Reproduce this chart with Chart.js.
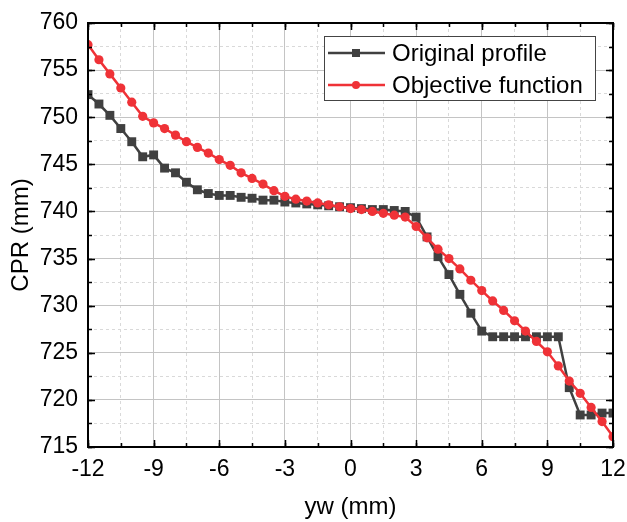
<!DOCTYPE html>
<html>
<head>
<meta charset="utf-8">
<script src="https://cdn.jsdelivr.net/npm/chart.js@4.4.0/dist/chart.umd.min.js"></script>
<style>
html, body { margin: 0; padding: 0; background: #fff; }
#wrap { width: 627px; height: 522px; }
</style>
</head>
<body>
<div id="wrap"><canvas id="canvasCpr" width="627" height="522"></canvas></div>
<script>
"use strict";

// yw positions (mm)
var ywValues = [-12, -11.5, -11, -10.5, -10, -9.5, -9, -8.5, -8, -7.5, -7, -6.5, -6, -5.5, -5, -4.5, -4, -3.5,
    -3, -2.5, -2, -1.5, -1, -0.5, 0, 0.5, 1, 1.5, 2, 2.5, 3, 3.5, 4, 4.5, 5, 5.5, 6, 6.5, 7, 7.5, 8, 8.5,
    9, 9.5, 10, 10.5, 11, 11.5, 12];

// CPR (mm)
var originalProfile = [752.4, 751.4, 750.2, 748.8, 747.4, 745.8, 746.0, 744.6, 744.1, 743.1, 742.3, 741.9,
    741.7, 741.7, 741.5, 741.4, 741.2, 741.2, 741.0, 740.9, 740.8, 740.7, 740.6, 740.5, 740.4, 740.3,
    740.2, 740.2, 740.1, 740.0, 739.4, 737.3, 735.2, 733.3, 731.2, 729.2, 727.3, 726.7, 726.7, 726.7,
    726.7, 726.7, 726.7, 726.7, 721.3, 718.4, 718.4, 718.6, 718.6];

var objectiveFunction = [757.7, 756.1, 754.6, 753.1, 751.6, 750.1, 749.4, 748.8, 748.1, 747.4, 746.8, 746.2,
    745.5, 744.9, 744.1, 743.5, 742.9, 742.2, 741.6, 741.3, 741.1, 740.9, 740.7, 740.5, 740.3, 740.2,
    740.0, 739.8, 739.6, 739.4, 738.4, 737.2, 736.0, 735.0, 733.9, 732.7, 731.6, 730.5, 729.5, 728.4,
    727.3, 726.2, 725.1, 723.6, 722.0, 720.7, 719.2, 717.7, 716.1];

var seriesNames = ['Original profile', 'Objective function'];
var seriesColors = ['#404040', '#ef3237'];

function toPoints(values) {
    var points = [];
    for (var i = 0; i < values.length; i++) {
        points.push({ x: ywValues[i], y: values[i] });
    }
    return points;
}

var fontName = '"Liberation Sans", Arial, sans-serif';

// box around the plot and inward ticks on every side
var frameAndTicks = {
    id: 'frameAndTicks',
    afterDatasetsDraw: function (chart) {
        var ctx = chart.ctx;
        var area = chart.chartArea;
        var s = chart.scales;
        ctx.save();
        ctx.strokeStyle = '#000';
        ctx.lineWidth = 1.5;
        function tickSet(scale, len, horizontal) {
            scale.ticks.forEach(function (t) {
                var p = Math.round(scale.getPixelForValue(t.value)) + 0.5;
                ctx.beginPath();
                if (horizontal) {
                    ctx.moveTo(p, area.bottom); ctx.lineTo(p, area.bottom - len);
                    ctx.moveTo(p, area.top); ctx.lineTo(p, area.top + len);
                } else {
                    ctx.moveTo(area.left, p); ctx.lineTo(area.left + len, p);
                    ctx.moveTo(area.right, p); ctx.lineTo(area.right - len, p);
                }
                ctx.stroke();
            });
        }
        tickSet(s.xMinor, 4, true);
        tickSet(s.x, 7, true);
        tickSet(s.yMinor, 4, false);
        tickSet(s.y, 7, false);
        ctx.lineWidth = 2;
        ctx.strokeRect(area.left, area.top, area.right - area.left, area.bottom - area.top);
        ctx.restore();
    }
};

// legend box inside the plot, top right
var insideLegend = {
    id: 'insideLegend',
    afterDraw: function (chart) {
        var ctx = chart.ctx;
        var area = chart.chartArea;
        var right = area.right - 18;
        var top = area.top + 13;
        var w = 271, h = 64;
        var left = right - w;
        ctx.save();
        ctx.fillStyle = '#fff';
        ctx.fillRect(left, top, w, h);
        ctx.strokeStyle = '#444';
        ctx.lineWidth = 1;
        ctx.strokeRect(left + 0.5, top + 0.5, w, h);
        ctx.font = '24px ' + fontName;
        ctx.textBaseline = 'middle';
        chart.data.datasets.forEach(function (ds, i) {
            var y = top + 17 + i * 32;
            ctx.strokeStyle = ds.borderColor;
            ctx.lineWidth = 2.5;
            ctx.beginPath();
            ctx.moveTo(left + 4, y);
            ctx.lineTo(left + 61, y);
            ctx.stroke();
            ctx.fillStyle = ds.borderColor;
            if (ds.pointStyle === 'rect') {
                ctx.fillRect(left + 28, y - 4, 8, 8);
            } else {
                ctx.beginPath();
                ctx.arc(left + 32, y, 4, 0, Math.PI * 2);
                ctx.fill();
            }
            ctx.fillStyle = '#000';
            ctx.fillText(ds.label, left + 68, y + 1);
        });
        ctx.restore();
    }
};

var tickFont = { family: fontName, size: 23 };
var titleFont = { family: fontName, size: 24 };

const context = document.getElementById('canvasCpr');
const cprChart = new Chart(context, {
    type: 'line',
    data: {
        datasets: [{
            label: seriesNames[0],
            data: toPoints(originalProfile),
            borderColor: seriesColors[0],
            backgroundColor: seriesColors[0],
            borderWidth: 2.5,
            pointStyle: 'rect',
            pointRadius: 6.3,
            pointBorderWidth: 0,
            order: 1
        }, {
            label: seriesNames[1],
            data: toPoints(objectiveFunction),
            borderColor: seriesColors[1],
            backgroundColor: seriesColors[1],
            borderWidth: 2.5,
            pointStyle: 'circle',
            pointRadius: 4.6,
            pointBorderWidth: 0,
            order: 0
        }]
    },
    options: {
        responsive: false,
        animation: false,
        layout: { padding: { top: 23, right: 14, left: 0, bottom: 0 } },
        plugins: {
            legend: { display: false },
            tooltip: { enabled: false }
        },
        scales: {
            x: {
                type: 'linear',
                position: 'bottom',
                min: -12,
                max: 12,
                ticks: { stepSize: 3, font: tickFont, color: '#000', padding: 9, maxRotation: 0 },
                grid: { color: '#c4c4c4', lineWidth: 1, drawTicks: false },
                border: { display: false },
                title: { display: true, text: 'yw (mm)', font: titleFont, color: '#000', padding: { bottom: 0 } },
                afterFit: function (scale) {
                    scale.height = 75;
                    scale.paddingLeft = 0;
                    scale.paddingRight = 0;
                }
            },
            xMinor: {
                type: 'linear',
                position: 'bottom',
                min: -12,
                max: 12,
                ticks: { stepSize: 1.5, display: false },
                grid: { color: '#d9d9d9', lineWidth: 1, drawTicks: false, z: -2 },
                border: { display: false, dash: [3, 3] },
                afterFit: function (scale) { scale.height = 0; }
            },
            y: {
                type: 'linear',
                position: 'left',
                min: 715,
                max: 760,
                ticks: { stepSize: 5, font: tickFont, color: '#000', padding: 10 },
                grid: { color: '#c4c4c4', lineWidth: 1, drawTicks: false },
                border: { display: false },
                title: { display: true, text: 'CPR (mm)', font: titleFont, color: '#000', padding: { top: 7 } },
                afterFit: function (scale) {
                    scale.width = 88;
                    scale.paddingTop = 0;
                    scale.paddingBottom = 0;
                }
            },
            yMinor: {
                type: 'linear',
                position: 'left',
                min: 715,
                max: 760,
                ticks: { stepSize: 2.5, display: false },
                grid: { color: '#d9d9d9', lineWidth: 1, drawTicks: false, z: -2 },
                border: { display: false, dash: [3, 3] },
                afterFit: function (scale) { scale.width = 0; }
            }
        }
    },
    plugins: [frameAndTicks, insideLegend]
});
</script>
</body>
</html>
